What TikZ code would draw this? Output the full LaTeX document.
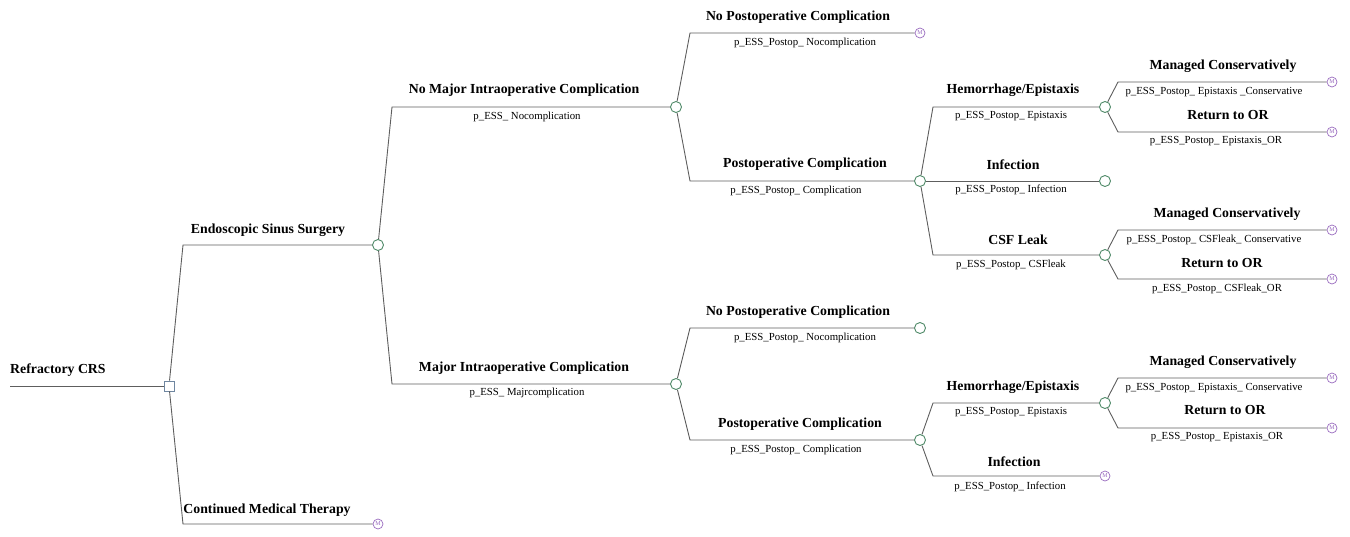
\documentclass[tikz,border=0pt]{standalone}
\usepackage{fontspec}
\setmainfont{Liberation Serif}
\definecolor{linegray}{HTML}{5E5E5E}
\definecolor{chgreen}{HTML}{4F8A68}
\definecolor{mpurple}{HTML}{9A6CC0}
\definecolor{decblue}{HTML}{6F86A0}
\tikzset{
  br/.style={draw=linegray, line width=0.9pt},
  chance/.style={circle, draw=chgreen, fill=white, minimum size=11pt, inner sep=0pt, line width=0.9pt},
  term/.style={circle, draw=mpurple, fill=white, minimum size=10pt, inner sep=0pt, line width=0.7pt,
     text=mpurple, font=\fontsize{6}{6}\selectfont},
  dec/.style={rectangle, draw=decblue, fill=white, minimum size=10pt, inner sep=0pt, line width=0.9pt},
  lab/.style={font=\fontsize{13.8}{14}\selectfont\bfseries, inner sep=0pt, yshift=-1.5pt},
  prob/.style={font=\fontsize{10.8}{11}\selectfont, inner sep=0pt}
}
\begin{document}
\begin{tikzpicture}[x=1pt,y=-1pt]
\useasboundingbox (0,0) rectangle (1350,536);
% nodes
\coordinate (root) at (10,386);
\node[dec] (D) at (169,386) {};
\node[chance] (C1) at (378,245) {};
\node[term] (T1) at (378,524) {M};
\node[chance] (C2) at (676,107) {};
\node[chance] (C3) at (676,384) {};
\node[term] (T2) at (920,33) {M};
\node[chance] (C4) at (920,181) {};
\node[chance] (C5) at (920,328) {};
\node[chance] (C6) at (920,440) {};
\node[chance] (C7) at (1105,107) {};
\node[chance] (C8) at (1105,181) {};
\node[chance] (C9) at (1105,255) {};
\node[chance] (C10) at (1105,403) {};
\node[term] (T3) at (1105,476) {M};
\node[term] (T4) at (1332,82) {M};
\node[term] (T5) at (1332,132) {M};
\node[term] (T6) at (1332,230) {M};
\node[term] (T7) at (1332,279) {M};
\node[term] (T8) at (1332,378) {M};
\node[term] (T9) at (1332,428) {M};
% corners
\coordinate (k1) at (183,245);
\coordinate (k2) at (183,524);
\coordinate (k3) at (392,107);
\coordinate (k4) at (392,384);
\coordinate (k5) at (690,33);
\coordinate (k6) at (690,181);
\coordinate (k7) at (690,328);
\coordinate (k8) at (690,440);
\coordinate (k9) at (933,107);
\coordinate (k11) at (933,255);
\coordinate (k12) at (933,403);
\coordinate (k13) at (933,476);
\coordinate (k14) at (1118,82);
\coordinate (k15) at (1118,132);
\coordinate (k16) at (1118,230);
\coordinate (k17) at (1118,279);
\coordinate (k18) at (1118,378);
\coordinate (k19) at (1118,428);
% connectors
\draw[br] (root) -- (D);
\draw[br] (D) -- (k1) -- (C1);
\draw[br] (D) -- (k2) -- (T1);
\draw[br] (C1) -- (k3) -- (C2);
\draw[br] (C1) -- (k4) -- (C3);
\draw[br] (C2) -- (k5) -- (T2);
\draw[br] (C2) -- (k6) -- (C4);
\draw[br] (C3) -- (k7) -- (C5);
\draw[br] (C3) -- (k8) -- (C6);
\draw[br] (C4) -- (k9) -- (C7);
\draw[br] (C4) -- (C8);
\draw[br] (C4) -- (k11) -- (C9);
\draw[br] (C6) -- (k12) -- (C10);
\draw[br] (C6) -- (k13) -- (T3);
\draw[br] (C7) -- (k14) -- (T4);
\draw[br] (C7) -- (k15) -- (T5);
\draw[br] (C9) -- (k16) -- (T6);
\draw[br] (C9) -- (k17) -- (T7);
\draw[br] (C10) -- (k18) -- (T8);
\draw[br] (C10) -- (k19) -- (T9);
% labels
\node[lab, anchor=west] (L0) at (10,369) {Refractory CRS};
\node[lab] (L1) at (268,229) {Endoscopic Sinus Surgery};
\node[lab] (L2) at (267,509) {Continued Medical Therapy};
\node[lab] (L3) at (524,89) {No Major Intraoperative Complication};
\node[prob] (P3) at (527,117) {p\_ESS\_ Nocomplication};
\node[lab] (L4) at (524,367) {Major Intraoperative Complication};
\node[prob] (P4) at (527,393) {p\_ESS\_ Majrcomplication};
\node[lab] (L5) at (798,16) {No Postoperative Complication};
\node[prob] (P5) at (805,43) {p\_ESS\_Postop\_ Nocomplication};
\node[lab] (L6) at (805,163) {Postoperative Complication};
\node[prob] (P6) at (796,191) {p\_ESS\_Postop\_ Complication};
\node[lab] (L7) at (798,311) {No Postoperative Complication};
\node[prob] (P7) at (805,338) {p\_ESS\_Postop\_ Nocomplication};
\node[lab] (L8) at (800,423) {Postoperative Complication};
\node[prob] (P8) at (796,450) {p\_ESS\_Postop\_ Complication};
\node[lab] (L9) at (1013,89) {Hemorrhage/Epistaxis};
\node[prob] (P9) at (1011,116) {p\_ESS\_Postop\_ Epistaxis};
\node[lab] (L10) at (1013,163) {Infection};
\node[prob] (P10) at (1011,190) {p\_ESS\_Postop\_ Infection};
\node[lab] (L11) at (1018,238) {CSF Leak};
\node[prob] (P11) at (1011,265) {p\_ESS\_Postop\_ CSFleak};
\node[lab] (L12) at (1013,386) {Hemorrhage/Epistaxis};
\node[prob] (P12) at (1011,412) {p\_ESS\_Postop\_ Epistaxis};
\node[lab] (L13) at (1014,460) {Infection};
\node[prob] (P13) at (1010,487) {p\_ESS\_Postop\_ Infection};
\node[lab] (L14) at (1223,65) {Managed Conservatively};
\node[prob] (P14) at (1214,92) {p\_ESS\_Postop\_ Epistaxis \_Conservative};
\node[lab] (L15) at (1228,114) {Return to OR};
\node[prob] (P15) at (1216,141) {p\_ESS\_Postop\_ Epistaxis\_OR};
\node[lab] (L16) at (1227,213) {Managed Conservatively};
\node[prob] (P16) at (1214,240) {p\_ESS\_Postop\_ CSFleak\_ Conservative};
\node[lab] (L17) at (1222,262) {Return to OR};
\node[prob] (P17) at (1217,289) {p\_ESS\_Postop\_ CSFleak\_OR};
\node[lab] (L18) at (1223,361) {Managed Conservatively};
\node[prob] (P18) at (1214,388) {p\_ESS\_Postop\_ Epistaxis\_ Conservative};
\node[lab] (L19) at (1225,409) {Return to OR};
\node[prob] (P19) at (1217,437) {p\_ESS\_Postop\_ Epistaxis\_OR};
\end{tikzpicture}
\end{document}
